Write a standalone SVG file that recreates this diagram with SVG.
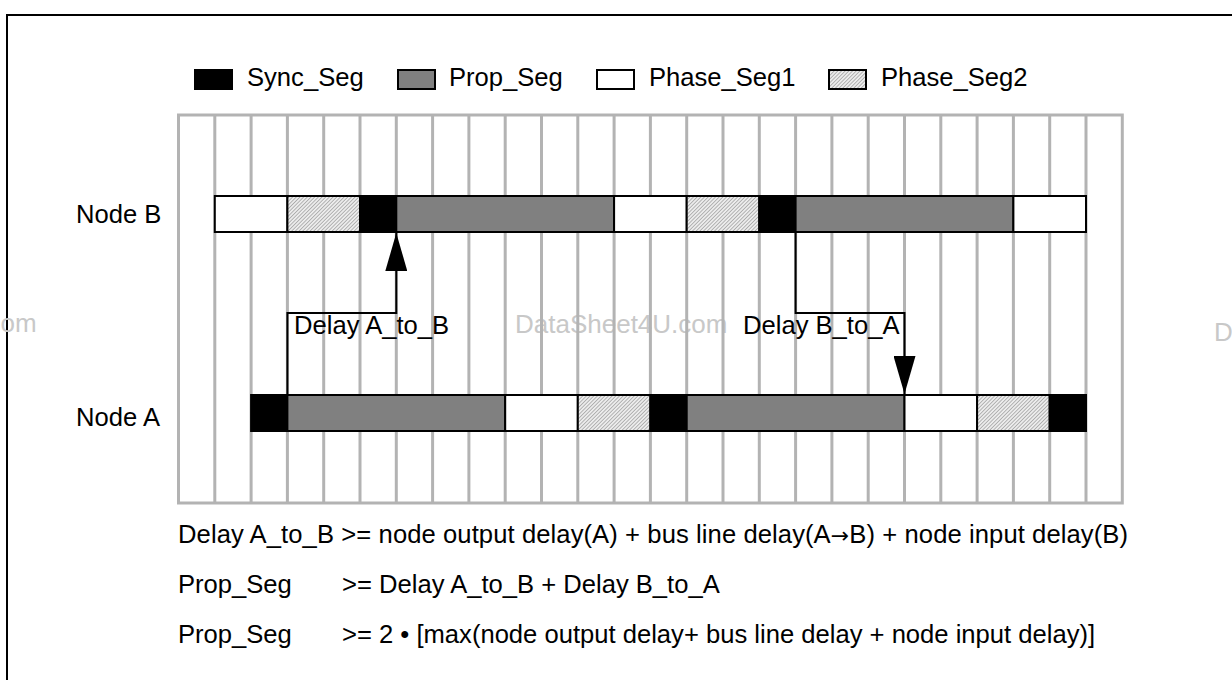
<svg xmlns="http://www.w3.org/2000/svg" width="1232" height="680" viewBox="0 0 1232 680">
<style>
  text { font-family: "Liberation Sans", Arial, sans-serif; font-size: 25.6px; fill: #000; }
  .wm { fill: #c8c8c8; font-size: 26px; }
  .arr { font-family: "DejaVu Sans", sans-serif; font-size: 22px; }
  .grid { stroke: #b3b3b3; stroke-width: 3; fill: none; }
  .seg { stroke: #000; stroke-width: 2; }
  .sync { fill: #000; }
  .prop { fill: #808080; }
  .ph1 { fill: #fff; }
  .ph2 { fill: url(#hatch); }
  .conn { stroke: #000; stroke-width: 2; fill: none; }
</style>
<defs>
  <pattern id="hatch" patternUnits="userSpaceOnUse" width="2.6" height="2.6" patternTransform="rotate(45)">
    <rect width="2.6" height="2.6" fill="#ececec"/>
    <line x1="0" y1="0" x2="0" y2="2.6" stroke="#7a7a7a" stroke-width="1"/>
  </pattern>
  <marker id="arrow" markerUnits="userSpaceOnUse" viewBox="0 0 38 22" refX="38" refY="11" markerWidth="38" markerHeight="22" orient="auto">
    <path d="M0,0 L38,11 L0,22 z" fill="#000"/>
  </marker>
</defs>
<rect width="1232" height="680" fill="#fff"/>
<path d="M7,680 V15 H1232" stroke="#000" stroke-width="2" fill="none"/>

<g id="watermarks">
  <text class="wm" x="0.5" y="332">om</text>
  <text class="wm" x="515" y="333">DataSheet4U.com</text>
  <text class="wm" x="1214" y="341">D</text>
</g>

<g id="legend">
  <rect class="seg sync" x="195" y="70" width="37" height="19"/>
  <text x="247" y="86">Sync_Seg</text>
  <rect class="seg prop" x="398" y="70" width="37" height="19"/>
  <text x="449" y="86">Prop_Seg</text>
  <rect class="seg ph1" x="597" y="70" width="37" height="19"/>
  <text x="649" y="86">Phase_Seg1</text>
  <rect class="seg ph2" x="829" y="70" width="37" height="19"/>
  <text x="881" y="86">Phase_Seg2</text>
</g>

<g id="grid">
  <rect class="grid" x="178.5" y="115" width="943.8" height="388"/>
  <path class="grid" d="M214.8,115V503 M251.1,115V503 M287.4,115V503 M323.7,115V503 M360,115V503 M396.3,115V503 M432.6,115V503 M468.9,115V503 M505.2,115V503 M541.5,115V503 M577.8,115V503 M614.1,115V503 M650.4,115V503 M686.7,115V503 M723,115V503 M759.3,115V503 M795.6,115V503 M831.9,115V503 M868.2,115V503 M904.5,115V503 M940.8,115V503 M977.1,115V503 M1013.4,115V503 M1049.7,115V503 M1086,115V503"/>
</g>

<g id="nodeB">
  <text x="76" y="223">Node B</text>
  <rect class="seg ph1" x="214.8" y="196" width="72.6" height="36"/>
  <rect class="seg ph2" x="287.4" y="196" width="72.6" height="36"/>
  <rect class="seg sync" x="360" y="196" width="36.3" height="36"/>
  <rect class="seg prop" x="396.3" y="196" width="217.8" height="36"/>
  <rect class="seg ph1" x="614.1" y="196" width="72.6" height="36"/>
  <rect class="seg ph2" x="686.7" y="196" width="72.6" height="36"/>
  <rect class="seg sync" x="759.3" y="196" width="36.3" height="36"/>
  <rect class="seg prop" x="795.6" y="196" width="217.8" height="36"/>
  <rect class="seg ph1" x="1013.4" y="196" width="72.6" height="36"/>
</g>

<g id="nodeA">
  <text x="76" y="426">Node A</text>
  <rect class="seg sync" x="251.1" y="395" width="36.3" height="36"/>
  <rect class="seg prop" x="287.4" y="395" width="217.8" height="36"/>
  <rect class="seg ph1" x="505.2" y="395" width="72.6" height="36"/>
  <rect class="seg ph2" x="577.8" y="395" width="72.6" height="36"/>
  <rect class="seg sync" x="650.4" y="395" width="36.3" height="36"/>
  <rect class="seg prop" x="686.7" y="395" width="217.8" height="36"/>
  <rect class="seg ph1" x="904.5" y="395" width="72.6" height="36"/>
  <rect class="seg ph2" x="977.1" y="395" width="72.6" height="36"/>
  <rect class="seg sync" x="1049.7" y="395" width="36.3" height="36"/>
</g>

<g id="connectors">
  <path class="conn" d="M287.4,395 V313 H396.3 V233" marker-end="url(#arrow)"/>
  <text x="294" y="334">Delay A_to_B</text>
  <path class="conn" d="M795.6,232 V313 H904.5 V394" marker-end="url(#arrow)"/>
  <text x="743" y="334">Delay B_to_A</text>
</g>

<g id="equations">
  <text x="178" y="543" textLength="950" lengthAdjust="spacing">Delay A_to_B &gt;= node output delay(A) + bus line delay(A<tspan class="arr">→</tspan>B) + node input delay(B)</text>
  <text x="178" y="593">Prop_Seg<tspan x="342">&gt;= Delay A_to_B + Delay B_to_A</tspan></text>
  <text x="178" y="643">Prop_Seg<tspan x="342">&gt;= 2 • [max(node output delay+ bus line delay + node input delay)]</tspan></text>
</g>
</svg>
